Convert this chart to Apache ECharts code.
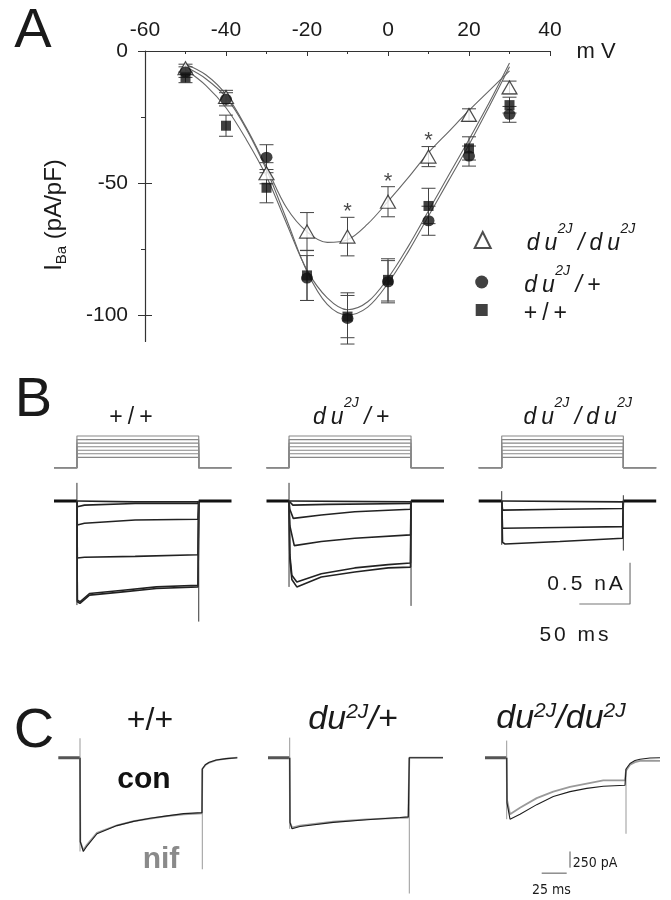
<!DOCTYPE html>
<html>
<head>
<meta charset="utf-8">
<script src="https://cdn.jsdelivr.net/npm/echarts@6/dist/echarts.min.js"></script>
<style>
html, body { margin: 0; padding: 0; background: #fff; }
#main { width: 671px; height: 900px; }
</style>
</head>
<body>
<div id="main"></div>
<script>
// ---------- panel A : I-V relation (mV, pA/pF) ----------
var volts = [-50, -40, -30, -20, -10, 0, 10, 20, 30];
var duduMean = [-6.5, -17.4, -46.3, -68.4, -70.3, -57.1, -40.0, -24.2, -13.8];
var duduErr  = [1.5, 2.5, 4.0, 7.2, 7.3, 5.7, 3.8, 2.3, 2.4];
var hetMean  = [-8.0, -18.3, -40.2, -86.0, -101.3, -87.4, -64.3, -39.8, -24.0];
var hetErr   = [2.0, 2.5, 4.7, 8.5, 9.7, 8.0, 5.5, 3.8, 3.0];
var wtMean   = [-10.0, -28.3, -51.8, -85.0, -100.6, -86.7, -58.7, -36.9, -20.5];
var wtErr    = [2.0, 4.0, 5.7, 9.5, 8.0, 8.0, 6.7, 4.4, 3.0];

var fitVolts = [-50, -45, -40, -35, -30, -25, -20, -15, -10, -5, 0, 5, 10, 15, 20, 25, 30];
var duduFit = [-5.0, -9.0, -16.5, -29.0, -44.0, -59.5, -68.5, -72.5, -71.5, -65.5, -57.0, -48.0, -38.5, -30.5, -22.5, -15.0, -7.5];
var hetFit  = [-6.0, -10.5, -17.5, -29.5, -45.0, -64.0, -83.5, -96.0, -100.0, -97.0, -88.0, -76.0, -62.5, -49.0, -35.5, -21.0, -6.0];
var wtFit   = [-7.0, -13.0, -21.5, -33.5, -47.5, -65.5, -83.0, -93.5, -98.0, -95.0, -86.0, -74.0, -60.5, -47.0, -33.5, -19.5, -4.5];

var starVolts = [-10, 0, 10];
var starLevel = [-59.0, -47.6, -32.2];

var yLabelValues = [0, -50, -100];
var yMinorValues = [-25, -75];

var genotypes = ['du2J/du2J', 'du2J/+', '+/+'];

// ---------- panel B : step protocol (mV) and Ba currents (ms, nA) ----------
var holdV = -80;
var stepV = [-50, -40, -30, -20, -10, 0, 10];
var bOn  = [22.6, 22.2, 22.7];
var bOff = [142.7, 142.5, 142.6];
var bEnd = 175;

var bWt = [
  [[23, -0.01], [80, -0.01], [142, -0.01]],
  [[23, -0.07], [30, -0.05], [80, -0.03], [142, -0.03]],
  [[23, -0.29], [30, -0.27], [80, -0.23], [142, -0.22]],
  [[23, -0.69], [30, -0.68], [80, -0.67], [142, -0.65]],
  [[23, -1.22], [25.6, -1.24], [35, -1.14], [68, -1.10], [101, -1.06], [142, -1.04]],
  [[23, -1.20], [25.6, -1.22], [35, -1.12], [68, -1.08], [101, -1.04], [142, -1.02]]
];
var bHet = [
  [[23, -0.01], [142, -0.01]],
  [[23, -0.02], [26, -0.05], [60, -0.04], [142, -0.03]],
  [[23, -0.10], [26.4, -0.21], [54, -0.17], [87, -0.13], [142, -0.10]],
  [[23, -0.30], [27.4, -0.54], [54, -0.49], [87, -0.45], [142, -0.41]],
  [[23, -0.70], [25, -0.95], [29.9, -1.04], [54, -0.92], [87, -0.86], [120, -0.81], [142, -0.80]],
  [[23, -0.65], [25, -0.90], [29.9, -0.98], [54, -0.88], [87, -0.81], [120, -0.77], [142, -0.75]]
];
var bHom = [
  [[23.5, -0.01], [142, -0.01]],
  [[23.5, -0.11], [80, -0.10], [142, -0.09]],
  [[23.5, -0.33], [80, -0.32], [142, -0.31]],
  [[23.5, -0.50], [26, -0.52], [80, -0.49], [142, -0.45]]
];
var bArtOn  = [[0.22, -1.26], [0.22, -1.04], [0.12, -0.53]];
var bArtOff = [[0.00, -1.46], [0.00, -1.27], [0.07, -0.60]];
var bBarEnd = 149.2, bBarTop = -0.747, bBarTime = 50, bBarCurrent = 0.5;

// ---------- panel C : control vs nifedipine (ms, pA) ----------
var cOn  = [21.7, 21.7, 21.7];
var cOff = [144, 141.3, 141];
var cCon = [
  [[22, -1300], [25, -1450], [28, -1380], [38.7, -1176], [58.7, -1050], [75.3, -985], [92, -936], [108.7, -900], [125.3, -865], [143.7, -850]],
  [[22, -1000], [24, -1100], [32, -1065], [65.3, -1000], [98.7, -960], [132, -925], [140.3, -915]],
  [[22, -700], [25, -951], [35, -876], [51.7, -726], [68.3, -600], [85, -525], [101.7, -475], [118.3, -441], [140, -426]]
];
var cNif = [
  [[22, -1300], [25, -1430], [28, -1360], [38.7, -1160], [58.7, -1045], [75.3, -980], [92, -940], [108.7, -905], [125.3, -875], [143.7, -860]],
  [[22, -1000], [24, -1080], [32, -1050], [65.3, -990], [98.7, -955], [132, -930], [140.3, -925]],
  [[22, -650], [25, -876], [35, -775], [51.7, -625], [68.3, -525], [85, -450], [101.7, -400], [118.3, -351], [140, -351]]
];
var cConTail = [
  [[144, -175], [147, -110], [151, -70], [158, -35], [168, -15], [179, 0]],
  [[141.3, 0], [175, 0]],
  [[141, -175], [145, -90], [150, -45], [155, -25], [165, -5], [175, 0]]
];
var cNifTail = [
  [[144, -175], [147, -115], [151, -75], [158, -38], [168, -15], [179, 0]],
  [[141.3, 0], [175, 0]],
  [[141, -200], [145, -110], [150, -70], [155, -50], [165, -45], [175, -50]]
];
var cArtOn  = [[300, -1450], [310, -1100], [264, -951]];
var cArtOff = [[-175, -1725], [0, -2100], [-175, -1176]];
var cBarX = 85, cBarTop = -1450, cBarCurrent = 250;
var cBarY = -1785, cBarStart = 56.7, cBarTime = 25;

// ---------- layout ----------
var FONT = "'Liberation Sans', Arial, sans-serif";
var INK = '#1a1a1a';
var chart = echarts.init(document.getElementById('main'));

var grids = [], xAxes = [], yAxes = [], series = [];

function pairs(xs, ys) {
  return xs.map(function (x, i) { return [x, ys[i]]; });
}

// grid 0 : panel A
grids.push({ left: 145, top: 51, width: 405, height: 290.4 });
xAxes.push({
  gridIndex: 0, type: 'value', position: 'top', min: -60, max: 40, interval: 20,
  axisLine: { onZero: false, lineStyle: { color: '#333', width: 1.2 } },
  axisTick: { inside: true, length: 5, lineStyle: { color: '#333' } },
  minorTick: { show: true, splitNumber: 2, length: 3, lineStyle: { color: '#333' } },
  splitLine: { show: false },
  axisLabel: { fontSize: 21, color: INK, fontFamily: FONT, margin: 10 }
});
yAxes.push({
  gridIndex: 0, type: 'value', position: 'left', min: -110, max: 0,
  axisLine: { onZero: false, lineStyle: { color: '#333', width: 1.2 } },
  axisTick: { length: 7, customValues: yLabelValues, lineStyle: { color: '#333' } },
  axisLabel: { customValues: yLabelValues, fontSize: 21, color: INK, fontFamily: FONT, margin: 17 },
  splitLine: { show: false }
});
yAxes.push({
  gridIndex: 0, type: 'value', position: 'left', min: -110, max: 0,
  axisLine: { show: false, onZero: false },
  axisTick: { inside: true, length: 7, customValues: [-50, -100], lineStyle: { color: '#333' } },
  axisLabel: { show: false }, splitLine: { show: false }
});
yAxes.push({
  gridIndex: 0, type: 'value', position: 'left', min: -110, max: 0,
  axisLine: { show: false, onZero: false },
  axisTick: { length: 4, customValues: yMinorValues, lineStyle: { color: '#333' } },
  axisLabel: { show: false }, splitLine: { show: false }
});

function hiddenGrid(left, top, width, height, xmin, xmax, ymin, ymax) {
  var gi = grids.length;
  grids.push({ left: left, top: top, width: width, height: height });
  xAxes.push({ gridIndex: gi, type: 'value', min: xmin, max: xmax, show: false });
  yAxes.push({ gridIndex: gi, type: 'value', min: ymin, max: ymax, show: false });
  return { x: xAxes.length - 1, y: yAxes.length - 1 };
}

// fitted curves
[duduFit, hetFit, wtFit].forEach(function (arr) {
  series.push({
    type: 'line', xAxisIndex: 0, yAxisIndex: 0, data: pairs(fitVolts, arr),
    smooth: 0.35, symbol: 'none', silent: true, z: 2,
    lineStyle: { color: '#666', width: 1.1 }
  });
});

function errSeries(means, errs) {
  return {
    type: 'custom', xAxisIndex: 0, yAxisIndex: 0, z: 3, silent: true, clip: false,
    data: volts.map(function (v, i) { return [v, means[i] - errs[i], means[i] + errs[i]]; }),
    renderItem: function (params, api) {
      var lo = api.coord([api.value(0), api.value(1)]);
      var hi = api.coord([api.value(0), api.value(2)]);
      var w = 7, st = { stroke: '#444', lineWidth: 1 };
      return {
        type: 'group', children: [
          { type: 'line', shape: { x1: lo[0], y1: lo[1], x2: hi[0], y2: hi[1] }, style: st },
          { type: 'line', shape: { x1: lo[0] - w, y1: lo[1], x2: lo[0] + w, y2: lo[1] }, style: st },
          { type: 'line', shape: { x1: hi[0] - w, y1: hi[1], x2: hi[0] + w, y2: hi[1] }, style: st }
        ]
      };
    }
  };
}
series.push(errSeries(duduMean, duduErr));
series.push(errSeries(hetMean, hetErr));
series.push(errSeries(wtMean, wtErr));

series.push({
  name: genotypes[0], type: 'scatter', xAxisIndex: 0, yAxisIndex: 0, z: 5,
  symbol: 'triangle', symbolSize: [15, 13], data: pairs(volts, duduMean),
  itemStyle: { color: '#fff', borderColor: '#222', borderWidth: 1.2 }
});
series.push({
  name: genotypes[1], type: 'scatter', xAxisIndex: 0, yAxisIndex: 0, z: 5,
  symbol: 'circle', symbolSize: [12, 11], data: pairs(volts, hetMean),
  itemStyle: { color: '#111' }
});
series.push({
  name: genotypes[2], type: 'scatter', xAxisIndex: 0, yAxisIndex: 0, z: 5,
  symbol: 'rect', symbolSize: 10, data: pairs(volts, wtMean),
  itemStyle: { color: '#111' }
});
series.push({
  type: 'scatter', xAxisIndex: 0, yAxisIndex: 0, z: 6, silent: true,
  data: pairs(starVolts, starLevel), symbolSize: 1,
  itemStyle: { color: 'rgba(0,0,0,0)' },
  label: { show: true, formatter: '*', position: 'inside', fontSize: 22, color: INK, fontFamily: FONT, offset: [0, 5] }
});

// panel B
var bLeft = [54, 266.5, 478.7];
var bTraces = [bWt, bHet, bHom];
bLeft.forEach(function (left, g) {
  var p = hiddenGrid(left, 432.5, 177.5, 35.5, 0, bEnd, -80, 20);
  stepV.forEach(function (v) {
    series.push({
      type: 'line', xAxisIndex: p.x, yAxisIndex: p.y, symbol: 'none', silent: true,
      data: [[0, holdV], [bOn[g], holdV], [bOn[g], v], [bOff[g], v], [bOff[g], holdV], [bEnd, holdV]],
      lineStyle: { color: '#888', width: 1.1 }
    });
  });
  var t = hiddenGrid(left, 430, 177.5, 194.9, 0, bEnd, -1.5, 0.86);
  bTraces[g].forEach(function (tr) {
    series.push({
      type: 'line', xAxisIndex: t.x, yAxisIndex: t.y, symbol: 'none', silent: true,
      data: [[bOn[g], 0]].concat(tr).concat([[bOff[g], 0]]),
      lineStyle: { color: '#222', width: 1.6 }
    });
  });
  series.push({
    type: 'line', xAxisIndex: t.x, yAxisIndex: t.y, symbol: 'none', silent: true,
    data: [[0, 0], [bOn[g], 0]], lineStyle: { color: '#111', width: 3 }
  });
  series.push({
    type: 'line', xAxisIndex: t.x, yAxisIndex: t.y, symbol: 'none', silent: true,
    data: [[bOff[g], 0], [bEnd, 0]], lineStyle: { color: '#111', width: 3 }
  });
  series.push({
    type: 'line', xAxisIndex: t.x, yAxisIndex: t.y, symbol: 'none', silent: true,
    data: [[bOn[g], bArtOn[g][0]], [bOn[g], bArtOn[g][1]]], lineStyle: { color: '#333', width: 1 }
  });
  series.push({
    type: 'line', xAxisIndex: t.x, yAxisIndex: t.y, symbol: 'none', silent: true,
    data: [[bOff[g], bArtOff[g][0]], [bOff[g], bArtOff[g][1]]], lineStyle: { color: '#333', width: 1 }
  });
  if (g === 2) {
    series.push({
      type: 'line', xAxisIndex: t.x, yAxisIndex: t.y, symbol: 'none', silent: true,
      data: [[bBarEnd, bBarTop], [bBarEnd, bBarTop - bBarCurrent], [bBarEnd - bBarTime, bBarTop - bBarCurrent]],
      lineStyle: { color: '#777', width: 1.2 }
    });
  }
});

// panel C
var cLeft = [58.3, 268, 485];
cLeft.forEach(function (left, g) {
  var c = hiddenGrid(left, 731.8, 180, 173.4, 0, 180, -2200, 400);
  series.push({
    type: 'line', xAxisIndex: c.x, yAxisIndex: c.y, symbol: 'none', silent: true,
    data: [[0, 0], [cOn[g], 0]], lineStyle: { color: '#555', width: 3 }
  });
  series.push({
    type: 'line', xAxisIndex: c.x, yAxisIndex: c.y, symbol: 'none', silent: true,
    data: [[cOn[g], cArtOn[g][0]], [cOn[g], cArtOn[g][1]]], lineStyle: { color: '#999', width: 1 }
  });
  series.push({
    type: 'line', xAxisIndex: c.x, yAxisIndex: c.y, symbol: 'none', silent: true,
    data: [[cOff[g], cArtOff[g][0]], [cOff[g], cArtOff[g][1]]], lineStyle: { color: '#999', width: 1 }
  });
  series.push({
    type: 'line', xAxisIndex: c.x, yAxisIndex: c.y, symbol: 'none', silent: true,
    data: [[cOn[g], 0]].concat(cNif[g]).concat(cNifTail[g]),
    lineStyle: { color: '#9a9a9a', width: 1.8 }
  });
  series.push({
    type: 'line', xAxisIndex: c.x, yAxisIndex: c.y, symbol: 'none', silent: true,
    data: [[cOn[g], 0]].concat(cCon[g]).concat(cConTail[g]),
    lineStyle: { color: '#1e1e1e', width: 1.1 }
  });
  if (g === 2) {
    series.push({
      type: 'line', xAxisIndex: c.x, yAxisIndex: c.y, symbol: 'none', silent: true,
      data: [[cBarX, cBarTop], [cBarX, cBarTop - cBarCurrent]], lineStyle: { color: '#555', width: 1 }
    });
    series.push({
      type: 'line', xAxisIndex: c.x, yAxisIndex: c.y, symbol: 'none', silent: true,
      data: [[cBarStart, cBarY], [cBarStart + cBarTime, cBarY]], lineStyle: { color: '#555', width: 1 }
    });
  }
});

// ---------- text ----------
function tok(str, style) {
  return str.split('').map(function (ch) { return '{' + style + '|' + ch + '}'; }).join('');
}
// "du" followed by a superscript: last letter without right padding
var duSup = '{it|d}{itu|u}{sup|2J}';
function spacedLabel(name) {
  if (name === 'du2J/du2J') return duSup + tok('/', 'it') + duSup;
  if (name === 'du2J/+') return duSup + tok('/+', 'it');
  return tok('+/+', 'rm');
}
function plainLabel(name) {
  if (name === 'du2J/du2J') return '{cit|du}{csup|2J}{cit|/du}{csup|2J}';
  if (name === 'du2J/+') return '{cit|du}{csup|2J}{cit|/+}';
  return '{crm|+/+}';
}
function rs(size, italic, lh, pad) {
  return {
    fontFamily: FONT, fontSize: size, fontStyle: italic ? 'italic' : 'normal',
    color: INK, fill: INK, lineHeight: lh, padding: pad, verticalAlign: 'bottom'
  };
}
var rich = {
  it: rs(23, true, 30, [8, 2.5, 0, 2.5]),
  itu: rs(23, true, 30, [8, 0.5, 0, 2.5]),
  rm: rs(23, false, 30, [8, 2.5, 0, 2.5]),
  sup: rs(14, true, 16, [3, 3, 19, 0]),
  cit: rs(34, true, 40, [0, 0, 0, 0]),
  crm: rs(32, false, 40, [0, 0, 0, 0]),
  csup: rs(21, true, 24, [0, 0, 14, 0]),
  sb: rs(21, false, 26, [0, 1.5, 0, 1.5]),
  ti: rs(24, false, 28, [0, 0, 3, 0]),
  tsub: rs(15, false, 14, [0, 0, 0, 0]),
  gap: { width: 28.5, lineHeight: 30 }
};

var legendRows = [
  { name: genotypes[0], top: 219, size: 16 },
  { name: genotypes[1], top: 261, size: 13 },
  { name: genotypes[2], top: 294, size: 12 }
];
var legends = legendRows.map(function (r) {
  return {
    data: [r.name], left: 481.7 - r.size / 2, top: r.top, padding: 0, orient: 'vertical',
    itemWidth: r.size, itemHeight: r.size, selectedMode: false,
    formatter: function (n) { return '{gap| }' + spacedLabel(n); },
    textStyle: { fontFamily: FONT, fontSize: 23, color: INK, rich: rich }
  };
});

function txt(x, y, text, size, opts) {
  opts = opts || {};
  return {
    type: 'text', x: x, y: y, rotation: opts.rotation || 0, silent: true,
    style: {
      text: text, fontFamily: opts.family || FONT, fontSize: size,
      fontWeight: opts.weight || 'normal', fill: opts.color || INK,
      align: 'center', verticalAlign: 'middle', rich: rich
    }
  };
}
var texts = [
  txt(33, 32, 'A', 56),
  txt(33.5, 401, 'B', 56),
  txt(34, 732, 'C', 56),
  txt(596, 52, 'm V', 22),
  txt(55.5, 215, '{ti|I}{tsub|Ba}{ti| (pA/pF)}', 24, { rotation: Math.PI / 2 }),
  txt(131, 414, spacedLabel('+/+'), 23),
  txt(351, 414, spacedLabel('du2J/+'), 23),
  txt(578, 414, spacedLabel('du2J/du2J'), 23),
  txt(585, 582, tok('0.5 nA', 'sb'), 21),
  txt(574, 633, tok('50 ms', 'sb'), 21),
  txt(150, 717, plainLabel('+/+'), 32),
  txt(353, 717, plainLabel('du2J/+'), 34),
  txt(561, 716, plainLabel('du2J/du2J'), 34),
  txt(144, 780, 'con', 30, { weight: 'bold', color: '#111' }),
  txt(161, 860, 'nif', 30, { weight: 'bold', color: '#8a8a8a' }),
  txt(595, 863, '250 pA', 14, { family: "'Liberation Sans Narrow', 'DejaVu Sans Condensed', sans-serif" }),
  txt(551.5, 890, '25 ms', 14, { family: "'Liberation Sans Narrow', 'DejaVu Sans Condensed', sans-serif" })
];

chart.setOption({
  animation: false,
  backgroundColor: '#fff',
  grid: grids,
  xAxis: xAxes,
  yAxis: yAxes,
  legend: legends,
  graphic: texts,
  series: series
});
</script>
</body>
</html>
